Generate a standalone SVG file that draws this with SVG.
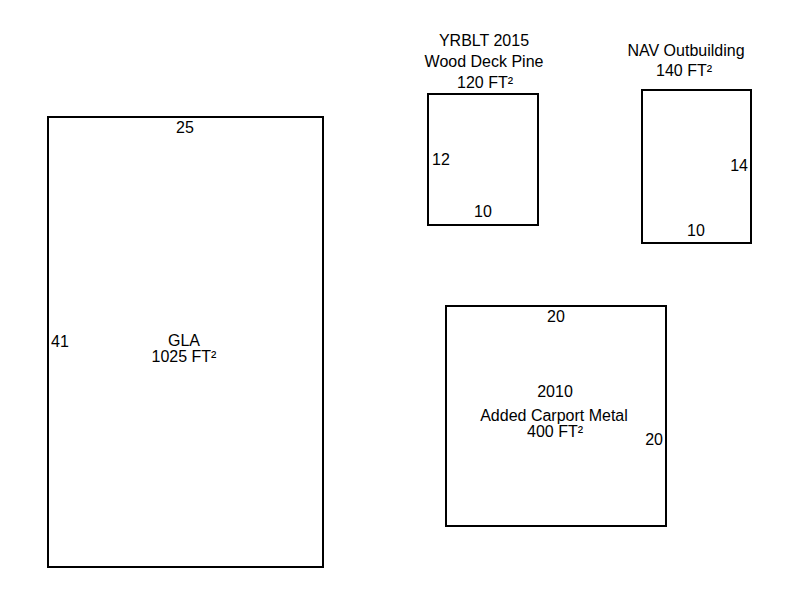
<svg xmlns="http://www.w3.org/2000/svg" width="800" height="600" viewBox="0 0 800 600">
<style>
rect.a{fill:none;stroke:#000;stroke-width:2}
text{font-family:"Liberation Sans",Arial,sans-serif;font-size:16px;fill:#000}
.m{text-anchor:middle}
.e{text-anchor:end}
</style>
<rect width="800" height="600" fill="#fff"/>
<g id="gla">
<rect class="a" x="48" y="117" width="275" height="450"/>
<text class="m" x="185" y="133">25</text>
<text x="51" y="347">41</text>
<text class="m" x="184" y="346">GLA</text>
<text class="m" x="184" y="362">1025 FT²</text>
</g>
<g id="deck">
<rect class="a" x="428" y="94" width="110" height="131"/>
<text class="m" x="484" y="46">YRBLT 2015</text>
<text class="m" x="484" y="67">Wood Deck Pine</text>
<text class="m" x="485" y="88">120 FT²</text>
<text x="432" y="165">12</text>
<text class="m" x="483" y="217">10</text>
</g>
<g id="outbuilding">
<rect class="a" x="642" y="90" width="109" height="153"/>
<text class="m" x="686" y="56">NAV Outbuilding</text>
<text class="m" x="684" y="76">140 FT²</text>
<text class="e" x="748" y="171">14</text>
<text class="m" x="696" y="236">10</text>
</g>
<g id="carport">
<rect class="a" x="446" y="306" width="220" height="220"/>
<text class="m" x="556" y="322">20</text>
<text class="m" x="555" y="397">2010</text>
<text class="m" x="554" y="421">Added Carport Metal</text>
<text class="m" x="555" y="437">400 FT²</text>
<text class="e" x="663" y="445">20</text>
</g>
<g id="connectors"></g>
</svg>
